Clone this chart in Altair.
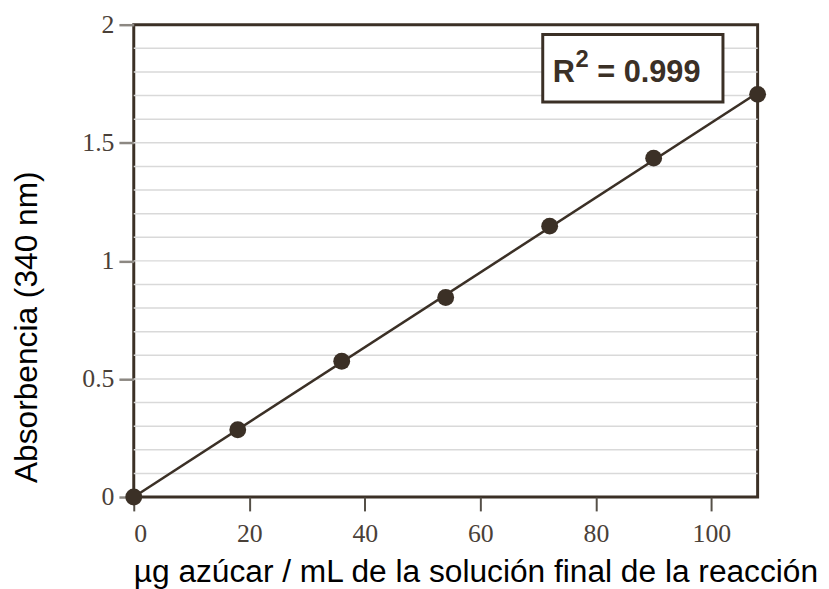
import altair as alt
import pandas as pd
import numpy as np

# ---- data ----
sugar = [0, 18, 36, 54, 72, 90, 108]
absorbance = [0.0, 0.285, 0.575, 0.845, 1.147, 1.435, 1.705]
x_ticks = [0, 20, 40, 60, 80, 100]
y_ticks = [0, 0.5, 1, 1.5, 2]
grid_values = [0.1, 0.2, 0.3, 0.4, 0.5, 0.6, 0.7, 0.8, 0.9, 1.0,
               1.1, 1.2, 1.3, 1.4, 1.5, 1.6, 1.7, 1.8, 1.9]
x_domain = [0, 108]
y_domain = [0, 2]
r2_text = "= 0.999"

x_title = "µg azúcar / mL de la solución final de la reacción"
y_title = "Absorbencia (340 nm)"

DARK = "#3b3026"
W, H = 630, 477

pts = pd.DataFrame({"x": sugar, "y": absorbance})
slope, intercept = np.polyfit(sugar, absorbance, 1)
fit = pd.DataFrame({"x": x_domain,
                    "y": [intercept + slope * v for v in x_domain]})
grid = pd.DataFrame({"y": grid_values})
one = pd.DataFrame({"a": [0]})

xs = alt.Scale(domain=x_domain, nice=False, zero=False)
ys = alt.Scale(domain=y_domain, nice=False)

x_axis = alt.Axis(values=x_ticks, title=x_title, grid=False, domain=False,
                  tickSize=14, tickWidth=2, tickColor="#555048",
                  labelFont="Liberation Serif", labelFontSize=26,
                  labelColor="#4a4038", labelPadding=10,
                  titleFont="Liberation Sans", titleFontSize=32,
                  titleFontWeight="normal", titleColor="#000000",
                  titleX=345, titleY=85, titleBaseline="alphabetic",
                  titleAlign="center")
y_axis = alt.Axis(values=y_ticks, title=y_title, format="~g", grid=False,
                  domain=False, tickSize=15, tickWidth=2.5,
                  tickColor="#8c8882",
                  labelFont="Liberation Serif", labelFontSize=26,
                  labelColor="#4a4038", labelPadding=5,
                  titleFont="Liberation Sans", titleFontSize=32,
                  titleFontWeight="normal", titleColor="#000000",
                  titleX=-98, titleY=305, titleAngle=270,
                  titleBaseline="alphabetic", titleAlign="center")

X = alt.X("x:Q", scale=xs, axis=x_axis)
Y = alt.Y("y:Q", scale=ys, axis=y_axis)

grid_layer = alt.Chart(grid).mark_rule(color="#d9d9d9", strokeWidth=1.5).encode(y=Y)
line_layer = alt.Chart(fit).mark_line(color=DARK, strokeWidth=2.5, clip=True).encode(x=X, y=Y)
pt_layer = alt.Chart(pts).mark_circle(color=DARK, opacity=1, size=290).encode(x=X, y=Y)

box = alt.Chart(one).mark_rect(fill="white", stroke=DARK, strokeWidth=3).encode(
    x=alt.value(413), x2=alt.value(595), y=alt.value(10), y2=alt.value(78))
t_r = alt.Chart(one).mark_text(text="R", font="Liberation Sans", fontSize=31,
                               fontWeight="bold", color=DARK, align="left",
                               baseline="alphabetic").encode(
    x=alt.value(423), y=alt.value(58))
t_2 = alt.Chart(one).mark_text(text="2", font="Liberation Sans", fontSize=24,
                               fontWeight="bold", color=DARK, align="left",
                               baseline="alphabetic").encode(
    x=alt.value(446), y=alt.value(43))
t_v = alt.Chart(one).mark_text(text=r2_text, font="Liberation Sans", fontSize=31,
                               fontWeight="bold", color=DARK, align="left",
                               baseline="alphabetic").encode(
    x=alt.value(468), y=alt.value(58))

chart = alt.layer(grid_layer, line_layer, pt_layer, box, t_r, t_2, t_v).properties(
    width=W, height=H,
    autosize=alt.AutoSizeParams(type="none"),
    padding={"left": 127, "top": 14, "right": 64, "bottom": 90},
    background="white",
).configure_view(stroke=DARK, strokeWidth=3)

chart.save("out.html", embed_options={"renderer": "svg", "actions": False})
